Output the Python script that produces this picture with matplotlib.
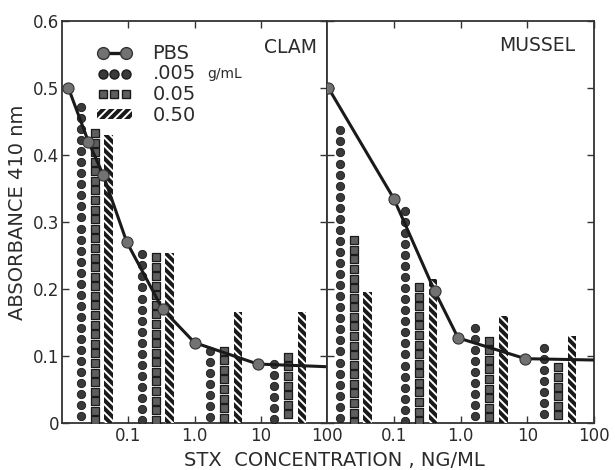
import numpy as np
import matplotlib
matplotlib.use('Agg')
import matplotlib.pyplot as plt
from matplotlib.lines import Line2D
from matplotlib.patches import Patch
from matplotlib.legend_handler import HandlerLine2D
from matplotlib.ticker import NullLocator

# PBS standard curve, absorbance vs STX (ng/mL)
clam_pbs_x = [0.0125, 0.025, 0.042, 0.095, 0.33, 1.0, 9.0, 100]
clam_pbs_y = [0.50, 0.42, 0.37, 0.27, 0.17, 0.12, 0.088, 0.084]
mussel_pbs_x = [0.0105, 0.1, 0.41, 0.92, 9.4, 100]
mussel_pbs_y = [0.50, 0.335, 0.197, 0.127, 0.096, 0.094]

# STX concentration of each group of extract bars
clam_groups = [0.031, 0.26, 2.8, 26]
mussel_groups = [0.025, 0.24, 2.7, 29]

# extract dilutions .005 / 0.05 / 0.50 g/mL
clam_005 = [0.48, 0.26, 0.116, 0.097]
clam_05 = [0.44, 0.255, 0.115, 0.106]
clam_50 = [0.43, 0.253, 0.165, 0.166]
mussel_005 = [0.445, 0.325, 0.15, 0.12]
mussel_05 = [0.28, 0.21, 0.13, 0.09]
mussel_50 = [0.195, 0.215, 0.16, 0.13]

legend_labels = ['PBS', '.005', '0.05', '0.50']
x_ticks = [0.1, 1, 10, 100]
x_ticklabels = ['0.1', '1.0', '10', '100']
y_ticks = [0, 0.1, 0.2, 0.3, 0.4, 0.5, 0.6]
y_ticklabels = ['0', '0.1', '0.2', '0.3', '0.4', '0.5', '0.6']

INK = '#1a1a1a'
TXT = '#2b2b2b'
DOT_PITCH = 0.0165
SQ_PITCH = 0.0143
OFF = 10 ** 0.21     # spacing between the 3 bars of a group (log units)
HALF = 10 ** 0.065   # half width of a hatched bar (log units)

plt.rcParams['font.family'] = ['DejaVu Sans']
plt.rcParams['hatch.linewidth'] = 1.4


def draw_panel(ax, groups, h005, h05, h50, pbs_x, pbs_y):
    for c, a, b, d in zip(groups, h005, h05, h50):
        #column of dots
        ys = np.arange(a - DOT_PITCH / 2, 0, -DOT_PITCH)
        ax.scatter(np.full(len(ys), c / OFF), ys, s=36, c='#3a3a3a',
                   edgecolors=INK, linewidths=0.6, zorder=3)
        #column of squares
        ys = np.arange(b - SQ_PITCH / 2, 0, -SQ_PITCH)
        ax.scatter(np.full(len(ys), c), ys, marker='s', s=27, c='#5e5e5e',
                   edgecolors=INK, linewidths=0.9, zorder=3)
        #hatched bar
        xc = c * OFF
        ax.bar(xc / HALF, d, width=xc * HALF - xc / HALF, align='edge',
               color=INK, edgecolor='white', linewidth=0, hatch='\\\\\\\\', zorder=3)
    ax.plot(pbs_x, pbs_y, color=INK, lw=2.2, zorder=4)
    ax.plot(pbs_x[:-1], pbs_y[:-1], 'o', ms=8, mfc='#727272', mec='#333333',
            mew=0.8, zorder=5)

    ax.set_xscale('log')
    ax.set_xlim(0.01, 100)
    ax.set_ylim(0, 0.6)
    ax.set_xticks(x_ticks)
    ax.set_xticklabels(x_ticklabels)
    ax.xaxis.set_minor_locator(NullLocator())
    ax.set_yticks(y_ticks)
    ax.tick_params(direction='in', length=5, width=1, top=True, right=True,
                   labelsize=12, pad=3, colors='#333333', labelcolor=TXT)
    for s in ax.spines.values():
        s.set_color('#333333')
        s.set_linewidth(1.3)


fig = plt.figure(figsize=(6.15, 4.70), dpi=100)
ax1 = fig.add_axes([62 / 615, 47 / 470, 265 / 615, 402 / 470])
ax2 = fig.add_axes([327 / 615, 47 / 470, 267 / 615, 402 / 470])

draw_panel(ax1, clam_groups, clam_005, clam_05, clam_50, clam_pbs_x, clam_pbs_y)
draw_panel(ax2, mussel_groups, mussel_005, mussel_05, mussel_50, mussel_pbs_x, mussel_pbs_y)

ax1.set_yticklabels(y_ticklabels)
ax1.tick_params(axis='y', pad=2)
ax2.tick_params(labelleft=False)

ax1.text(0.962, 0.933, 'CLAM', transform=ax1.transAxes, ha='right', va='center',
         fontsize=13.5, color=TXT)
ax2.text(0.786, 0.94, 'MUSSEL', transform=ax2.transAxes, ha='center', va='center',
         fontsize=13.5, color=TXT)

#legend
pbs_h = Line2D([], [], color=INK, lw=2.4, marker='o', ms=8.5, mfc='#727272', mec='#333333')
dot_h = Line2D([], [], ls='none', marker='o', ms=6.5, mfc='#3a3a3a', mec=INK)
sq_h = Line2D([], [], ls='none', marker='s', ms=5.6, mfc='#5e5e5e', mec=INK)
hat_h = Patch(facecolor=INK, edgecolor='white', linewidth=0, hatch='////')
ax1.legend([pbs_h, dot_h, sq_h, hat_h], legend_labels, loc='upper left',
           bbox_to_anchor=(0.132, 0.944), frameon=False, fontsize=14,
           handlelength=1.8, handleheight=0.4, handletextpad=1.05,
           labelspacing=0.1, borderpad=0, borderaxespad=0, labelcolor=TXT,
           handler_map={pbs_h: HandlerLine2D(numpoints=2),
                        dot_h: HandlerLine2D(numpoints=3),
                        sq_h: HandlerLine2D(numpoints=3)})
ax1.text(0.547, 0.868, 'g/mL', transform=ax1.transAxes, fontsize=10,
         color=TXT, va='center')

fig.text(18 / 615, 1 - 212 / 470, 'ABSORBANCE 410 nm', rotation=90,
         ha='center', va='center', fontsize=14, color=TXT)
fig.text(334 / 615, 1 - 461 / 470, 'STX  CONCENTRATION , NG/ML',
         ha='center', va='center', fontsize=14, color=TXT)

fig.savefig('out.png', dpi=100)
